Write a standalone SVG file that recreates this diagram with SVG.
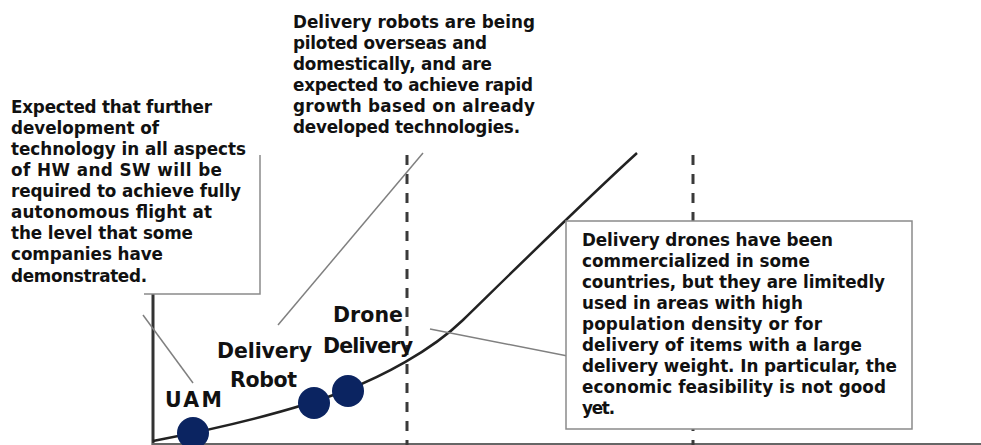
<svg xmlns="http://www.w3.org/2000/svg" width="981" height="445" viewBox="0 0 981 445">
  <style>
    .txt { font-family: "DejaVu Sans", "Noto Sans", "Liberation Sans", sans-serif; font-weight: 700; fill: #111; }
    .note { font-size: 16.8px; }
    .label { font-size: 20.5px; }
    .leader { stroke: #808080; stroke-width: 1.5; fill: none; }
    .frame { stroke: #8a8a8a; stroke-width: 1.5; fill: #fff; }
    .phase { stroke: #3a3a3a; stroke-width: 3; stroke-dasharray: 10 9; fill: none; }
    .dot { fill: #0b2461; }
  </style>

  <rect width="981" height="445" fill="#fff"/>

  <!-- axes -->
  <g id="axes">
    <line x1="153" y1="294" x2="153" y2="445" stroke="#333" stroke-width="3"/>
    <line x1="152" y1="444" x2="981" y2="444" stroke="#666" stroke-width="2"/>
  </g>

  <!-- phase boundaries -->
  <g id="phase-lines">
    <line class="phase" x1="407" y1="155" x2="407" y2="445"/>
    <line class="phase" x1="693" y1="155" x2="693" y2="445"/>
  </g>

  <!-- growth curve -->
  <path id="growth-curve" d="M153,441 C220,428 290,412 347,390 C380,377 430,352 463,320 C500,284 580,205 637,153" fill="none" stroke="#222" stroke-width="2.5"/>

  <!-- callout leaders -->
  <g id="connectors">
    <line class="leader" x1="143" y1="315" x2="193" y2="383"/>
    <line class="leader" x1="278" y1="325" x2="423" y2="153"/>
    <line class="leader" x1="430" y1="329" x2="588" y2="360"/>
  </g>

  <!-- UAM callout (only right and bottom frame edges show) -->
  <g id="note-uam">
    <path d="M260,155 L260,294 L144,294" fill="none" stroke="#8a8a8a" stroke-width="1.5"/>
    <text class="txt note">
      <tspan x="11" y="113" textLength="201">Expected that further</tspan>
      <tspan x="11" y="134" textLength="148">development of</tspan>
      <tspan x="11" y="155" textLength="235">technology in all aspects</tspan>
      <tspan x="11" y="176" textLength="211">of HW and SW will be</tspan>
      <tspan x="11" y="197" textLength="230">required to achieve fully</tspan>
      <tspan x="11" y="218" textLength="201">autonomous flight at</tspan>
      <tspan x="11" y="239" textLength="182">the level that some</tspan>
      <tspan x="11" y="260" textLength="152">companies have</tspan>
      <tspan x="11" y="282" textLength="136">demonstrated.</tspan>
    </text>
  </g>

  <!-- delivery robot callout -->
  <g id="note-robot">
    <text class="txt note">
      <tspan x="293" y="28" textLength="242">Delivery robots are being</tspan>
      <tspan x="293" y="49" textLength="194">piloted overseas and</tspan>
      <tspan x="293" y="70" textLength="199">domestically, and are</tspan>
      <tspan x="293" y="91" textLength="240">expected to achieve rapid</tspan>
      <tspan x="293" y="112" textLength="242">growth based on already</tspan>
      <tspan x="293" y="133" textLength="227">developed technologies.</tspan>
    </text>
  </g>

  <!-- delivery drone callout -->
  <g id="note-drone">
    <rect class="frame" x="566" y="221" width="346" height="208"/>
    <text class="txt note">
      <tspan x="582" y="246" textLength="251">Delivery drones have been</tspan>
      <tspan x="582" y="267" textLength="228">commercialized in some</tspan>
      <tspan x="582" y="288" textLength="303">countries, but they are limitedly</tspan>
      <tspan x="582" y="309" textLength="221">used in areas with high</tspan>
      <tspan x="582" y="330" textLength="240">population density or for</tspan>
      <tspan x="582" y="351" textLength="280">delivery of items with a large</tspan>
      <tspan x="582" y="372" textLength="315">delivery weight. In particular, the</tspan>
      <tspan x="582" y="393" textLength="304">economic feasibility is not good</tspan>
      <tspan x="582" y="414" textLength="33">yet.</tspan>
    </text>
  </g>

  <!-- technology markers -->
  <g id="node-uam">
    <circle class="dot" cx="193" cy="433" r="16"/>
    <text class="txt label" x="165" y="407" textLength="57">UAM</text>
  </g>
  <g id="node-robot">
    <circle class="dot" cx="314" cy="403" r="16"/>
    <text class="txt label" x="217" y="358" textLength="95">Delivery</text>
    <text class="txt label" x="230" y="387" textLength="67">Robot</text>
  </g>
  <g id="node-drone">
    <circle class="dot" cx="348" cy="391" r="16"/>
    <text class="txt label" x="333" y="322" textLength="70">Drone</text>
    <text class="txt label" x="323" y="353" textLength="90">Delivery</text>
  </g>
</svg>
